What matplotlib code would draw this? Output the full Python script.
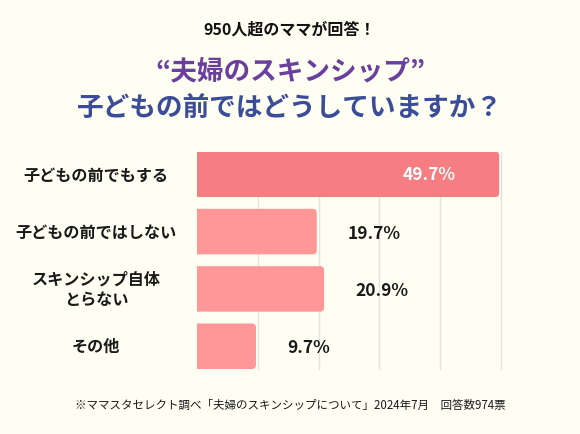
import matplotlib
matplotlib.use('Agg')
import matplotlib.pyplot as plt
from matplotlib import transforms
from matplotlib.patches import FancyBboxPatch

plt.rcParams['font.family'] = ['Noto Sans CJK JP', 'DejaVu Sans']

categories = ['子どもの前でもする', '子どもの前ではしない', 'スキンシップ自体\nとらない', 'その他']
values = [49.7, 19.7, 20.9, 9.7]
value_labels = ['49.7%', '19.7%', '20.9%', '9.7%']
grid_ticks = [10, 20, 30, 40, 50]

bg = '#fefef3'
bar_colors = ['#f47e82', '#ff9799', '#ff9799', '#ff9799']

fig = plt.figure(figsize=(5.8, 4.35), dpi=100, facecolor=bg)
ax = fig.add_axes([197 / 580, 65 / 435, 307 / 580, 217.5 / 435])
ax.set_facecolor(bg)

ypos = list(range(len(categories)))
bars = ax.barh(ypos, values, height=0.794, color=bar_colors)
ax.set_xlim(0, 50.5)
ax.set_ylim(3.397, -0.397)

# rounded right corners (left ones get clipped at x=0)
for b in bars:
    x, y, w, h = b.get_x(), b.get_y(), b.get_width(), b.get_height()
    rp = FancyBboxPatch((x - 1, y), w + 1, h,
                        boxstyle='round,pad=0,rounding_size=0.66',
                        mutation_aspect=0.106,
                        facecolor=b.get_facecolor(), edgecolor='none', zorder=2)
    ax.add_patch(rp)
    b.remove()

for t in grid_ticks:
    ax.axvline(t, color='#e4e4dc', lw=1, zorder=1, clip_on=False)

for sp in ax.spines.values():
    sp.set_visible(False)
ax.set_xticks([])
ax.set_yticks([])

for i, (v, lab) in enumerate(zip(values, value_labels)):
    if v > 40:
        ax.text(v - 7.2, i, lab, ha='right', va='center', color='white',
                fontsize=12.5, fontweight='bold', zorder=3)
    else:
        ax.text(v + 5.1, i + 0.02, lab, ha='left', va='center', color='#1a1a1a',
                fontsize=12.5, fontweight='bold', zorder=3)

trans = transforms.blended_transform_factory(fig.transFigure, ax.transData)
for i, c in enumerate(categories):
    ax.text(96 / 580, i, c, transform=trans, ha='center', va='center',
            multialignment='center', linespacing=1.35,
            fontsize=11.6, fontweight='bold', color='#1a1a1a')

fig.text(0.5, 1 - 30 / 435, '950人超のママが回答！', ha='center', va='center',
         fontsize=11.5, fontweight='bold', color='#111111')
fig.text(0.5, 1 - 72 / 435, '“夫婦のスキンシップ”', ha='center', va='center',
         fontsize=19.2, fontweight='bold', color='#6a3f9e')
fig.text(0.5, 1 - 108 / 435, '子どもの前ではどうしていますか？', ha='center', va='center',
         fontsize=19.2, fontweight='bold', color='#3b4d98')
fig.text(0.5, 1 - 405 / 435,
         '※ママスタセレクト調べ「夫婦のスキンシップについて」2024年7月　回答数974票',
         ha='center', va='center', fontsize=8.3, color='#1a1a1a')

fig.savefig('out.png', dpi=100, facecolor=bg)
